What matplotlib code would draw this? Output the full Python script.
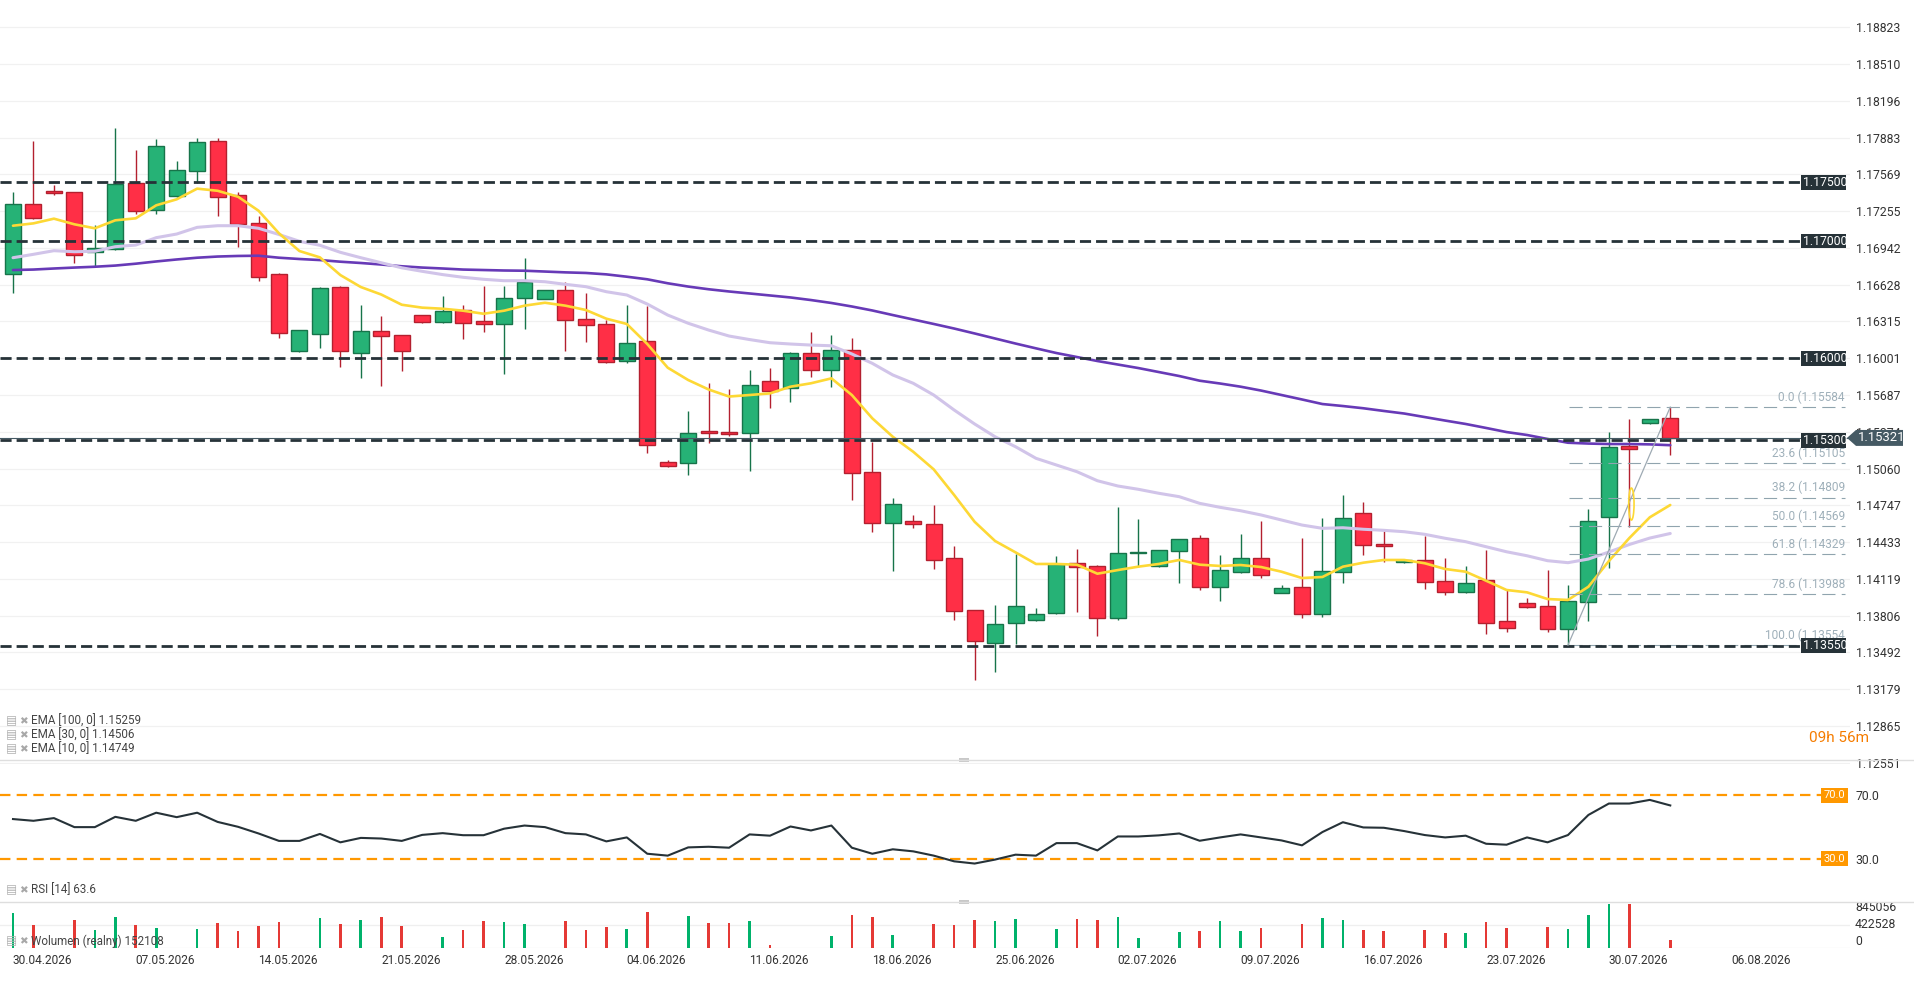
"""EUR/USD daily chart with EMA, RSI and volume panels, redrawn with matplotlib."""

import matplotlib
matplotlib.use("Agg")
import matplotlib.pyplot as plt
from matplotlib.patches import Rectangle, Polygon, Ellipse

plt.rcParams["font.family"] = ["Roboto", "DejaVu Sans"]
plt.rcParams["lines.scale_dashes"] = False

# ---- data --------------------------------------------------------------
opens = [
    1.16716, 1.17314, 1.17424, 1.17416, 1.16904, 1.16930, 1.17493, 1.17262, 1.17387, 1.17595,
    1.17851, 1.17390, 1.17151, 1.16716, 1.16060, 1.16205, 1.16606, 1.16043, 1.16230, 1.16196,
    1.16367, 1.16307, 1.16409, 1.16316, 1.16290, 1.16512, 1.16503, 1.16580, 1.16333, 1.16290,
    1.15974, 1.16145, 1.15113, 1.15104, 1.15380, 1.15369, 1.15360, 1.15804, 1.15744, 1.16043,
    1.15898, 1.16068, 1.15028, 1.14593, 1.14610, 1.14584, 1.14294, 1.13851, 1.13574, 1.13740,
    1.13765, 1.13825, 1.14252, 1.14226, 1.13788, 1.14337, 1.14226, 1.14354, 1.14465, 1.14047,
    1.14180, 1.14294, 1.13996, 1.14047, 1.13817, 1.14175, 1.14678, 1.14416, 1.14260, 1.14277,
    1.14098, 1.14004, 1.14107, 1.13759, 1.13910, 1.13885, 1.13689, 1.13919, 1.14644, 1.15255,
    1.15451, 1.15491,
]
highs = [
    1.17418, 1.17853, 1.17478, 1.17420, 1.17137, 1.17964, 1.17777, 1.17870, 1.17683, 1.17879,
    1.17880, 1.17418, 1.17214, 1.16728, 1.16240, 1.16611, 1.16617, 1.16455, 1.16361, 1.16200,
    1.16370, 1.16531, 1.16455, 1.16617, 1.16617, 1.16855, 1.16580, 1.16648, 1.16557, 1.16327,
    1.16452, 1.16446, 1.15133, 1.15551, 1.15789, 1.15738, 1.15900, 1.15917, 1.16054, 1.16224,
    1.16199, 1.16173, 1.15284, 1.14809, 1.14664, 1.14749, 1.14399, 1.13855, 1.13896, 1.14331,
    1.13870, 1.14316, 1.14374, 1.14237, 1.14732, 1.14629, 1.14365, 1.14458, 1.14490, 1.14322,
    1.14501, 1.14612, 1.14066, 1.14467, 1.14638, 1.14834, 1.14774, 1.14527, 1.14280, 1.14487,
    1.14297, 1.14229, 1.14365, 1.14024, 1.13956, 1.14194, 1.14066, 1.14715, 1.15371, 1.15485,
    1.15482, 1.15584,
]
lows = [
    1.16560, 1.17186, 1.17395, 1.16815, 1.16787, 1.16925, 1.17233, 1.17233, 1.17376, 1.17493,
    1.17216, 1.16952, 1.16662, 1.16176, 1.16058, 1.16090, 1.15928, 1.15835, 1.15766, 1.15894,
    1.16299, 1.16300, 1.16167, 1.16227, 1.15866, 1.16252, 1.16503, 1.16065, 1.16142, 1.15957,
    1.15957, 1.15195, 1.15075, 1.15007, 1.15280, 1.15340, 1.15041, 1.15579, 1.15630, 1.15843,
    1.15758, 1.14794, 1.14521, 1.14188, 1.14555, 1.14206, 1.13771, 1.13259, 1.13327, 1.13566,
    1.13762, 1.13820, 1.13839, 1.13634, 1.13771, 1.14223, 1.14222, 1.14086, 1.14026, 1.13927,
    1.14171, 1.14129, 1.13995, 1.13788, 1.13796, 1.14081, 1.14325, 1.14260, 1.14258, 1.14035,
    1.13979, 1.13996, 1.13651, 1.13663, 1.13870, 1.13668, 1.13554, 1.13762, 1.14211, 1.14564,
    1.15437, 1.15178,
]
closes = [
    1.17314, 1.17194, 1.17407, 1.16879, 1.16938, 1.17484, 1.17259, 1.17808, 1.17603, 1.17842,
    1.17378, 1.17143, 1.16696, 1.16213, 1.16239, 1.16597, 1.16060, 1.16230, 1.16188, 1.16060,
    1.16307, 1.16401, 1.16299, 1.16290, 1.16512, 1.16653, 1.16580, 1.16324, 1.16281, 1.15966,
    1.16128, 1.15258, 1.15079, 1.15360, 1.15360, 1.15352, 1.15770, 1.15719, 1.16043, 1.15898,
    1.16068, 1.15019, 1.14593, 1.14755, 1.14584, 1.14277, 1.13842, 1.13586, 1.13731, 1.13885,
    1.13817, 1.14243, 1.14217, 1.13788, 1.14337, 1.14350, 1.14362, 1.14456, 1.14047, 1.14192,
    1.14294, 1.14149, 1.14038, 1.13817, 1.14183, 1.14638, 1.14405, 1.14397, 1.14277, 1.14090,
    1.14004, 1.14081, 1.13740, 1.13697, 1.13876, 1.13694, 1.13927, 1.14610, 1.15241, 1.15229,
    1.15480, 1.15321,
]
ema10 = [
    1.17131, 1.17151, 1.17191, 1.17143, 1.17109, 1.17177, 1.17194, 1.17305, 1.17356, 1.17447,
    1.17429, 1.17378, 1.17259, 1.17066, 1.16915, 1.16861, 1.16710, 1.16608, 1.16544, 1.16457,
    1.16432, 1.16423, 1.16406, 1.16380, 1.16406, 1.16449, 1.16474, 1.16449, 1.16412, 1.16338,
    1.16293, 1.16122, 1.15920, 1.15815, 1.15734, 1.15674, 1.15687, 1.15701, 1.15758, 1.15787,
    1.15829, 1.15687, 1.15488, 1.15331, 1.15203, 1.15053, 1.14834, 1.14606, 1.14442, 1.14345,
    1.14246, 1.14246, 1.14240, 1.14163, 1.14194, 1.14223, 1.14246, 1.14280, 1.14240, 1.14229,
    1.14237, 1.14220, 1.14180, 1.14126, 1.14135, 1.14223, 1.14257, 1.14280, 1.14280, 1.14252,
    1.14203, 1.14180, 1.14103, 1.14024, 1.14004, 1.13947, 1.13939, 1.14052, 1.14271, 1.14467,
    1.14644, 1.14749,
]
ema30 = [
    1.16858, 1.16887, 1.16918, 1.16909, 1.16913, 1.16952, 1.16966, 1.17029, 1.17060, 1.17117,
    1.17131, 1.17131, 1.17109, 1.17056, 1.16998, 1.16964, 1.16904, 1.16858, 1.16815, 1.16772,
    1.16742, 1.16714, 1.16691, 1.16674, 1.16662, 1.16662, 1.16653, 1.16631, 1.16611, 1.16568,
    1.16540, 1.16463, 1.16369, 1.16299, 1.16241, 1.16190, 1.16160, 1.16133, 1.16122, 1.16113,
    1.16107, 1.16037, 1.15957, 1.15858, 1.15787, 1.15687, 1.15559, 1.15440, 1.15331, 1.15246,
    1.15147, 1.15090, 1.15033, 1.14956, 1.14911, 1.14883, 1.14849, 1.14820, 1.14763, 1.14729,
    1.14700, 1.14664, 1.14621, 1.14578, 1.14550, 1.14555, 1.14542, 1.14533, 1.14521, 1.14499,
    1.14465, 1.14436, 1.14393, 1.14350, 1.14316, 1.14274, 1.14257, 1.14288, 1.14348, 1.14412,
    1.14467, 1.14506,
]
ema100 = [
    1.16753, 1.16757, 1.16766, 1.16774, 1.16781, 1.16791, 1.16807, 1.16826, 1.16843, 1.16858,
    1.16868, 1.16873, 1.16875, 1.16858, 1.16847, 1.16838, 1.16824, 1.16813, 1.16800, 1.16785,
    1.16774, 1.16766, 1.16757, 1.16753, 1.16749, 1.16747, 1.16740, 1.16733, 1.16728, 1.16716,
    1.16696, 1.16674, 1.16640, 1.16612, 1.16589, 1.16570, 1.16553, 1.16536, 1.16519, 1.16497,
    1.16472, 1.16442, 1.16408, 1.16369, 1.16331, 1.16293, 1.16254, 1.16212, 1.16169, 1.16126,
    1.16085, 1.16045, 1.16011, 1.15977, 1.15947, 1.15917, 1.15883, 1.15849, 1.15809, 1.15785,
    1.15758, 1.15725, 1.15687, 1.15649, 1.15610, 1.15593, 1.15574, 1.15551, 1.15529, 1.15499,
    1.15469, 1.15440, 1.15406, 1.15371, 1.15346, 1.15312, 1.15280, 1.15273, 1.15269, 1.15269,
    1.15266, 1.15259,
]
rsi = [
    55.0, 53.9, 55.6, 49.9, 49.9, 56.4, 53.9, 59.0, 56.2, 59.0,
    53.2, 50.1, 45.9, 41.2, 41.2, 45.6, 40.3, 43.1, 42.7, 41.2,
    45.0, 46.1, 44.8, 44.8, 48.9, 50.9, 49.9, 46.1, 45.3, 40.9,
    43.4, 33.1, 31.9, 37.1, 37.5, 36.9, 45.3, 44.5, 50.3, 47.8,
    50.9, 36.9, 33.1, 35.9, 34.6, 31.9, 28.3, 26.9, 29.4, 32.5,
    31.9, 39.8, 39.8, 35.2, 44.0, 44.0, 44.7, 45.9, 41.3, 43.4,
    45.3, 43.4, 41.5, 38.4, 46.8, 53.0, 49.7, 49.5, 47.4, 44.9,
    43.4, 44.5, 39.4, 38.8, 43.4, 40.3, 44.9, 57.6, 64.8, 64.8,
    67.1, 63.6,
]
volume = [
    628000, 411000, 0, 501000, 320000, 556000, 411000, 356000, 0, 338000,
    447000, 302000, 393000, 465000, 0, 537000, 429000, 501000, 556000, 393000,
    0, 194000, 320000, 483000, 464000, 428000, 0, 482000, 320000, 379000,
    338000, 645000, 0, 572000, 446000, 446000, 482000, 49000, 0, 0,
    211000, 590000, 554000, 229000, 0, 428000, 410000, 500000, 482000, 518000,
    0, 338000, 518000, 500000, 554000, 175000, 0, 283000, 302000, 482000,
    302000, 356000, 0, 428000, 536000, 500000, 320000, 302000, 0, 320000,
    265000, 265000, 464000, 356000, 0, 374000, 338000, 590000, 789000, 789000,
    0, 152108,
]
price_ticks = [
    1.18823, 1.18510, 1.18196, 1.17883, 1.17569, 1.17255, 1.16942, 1.16628, 1.16315,
    1.16001, 1.15687, 1.15374, 1.15060, 1.14747, 1.14433, 1.14119, 1.13806, 1.13492,
    1.13179, 1.12865, 1.12551,
]
date_labels = [
    "30.04.2026", "07.05.2026", "14.05.2026", "21.05.2026", "28.05.2026",
    "04.06.2026", "11.06.2026", "18.06.2026", "25.06.2026", "02.07.2026",
    "09.07.2026", "16.07.2026", "23.07.2026", "30.07.2026", "06.08.2026",
]
BARS_PER_WEEK = 6  # Sunday session bars included
level_lines = [1.17500, 1.17000, 1.16000, 1.15300, 1.13550]
fib_names = ["0.0", "23.6", "38.2", "50.0", "61.8", "78.6", "100.0"]
fib_prices = [1.15584, 1.15105, 1.14809, 1.14569, 1.14329, 1.13988, 1.13554]
fib_start, fib_end = 76, 81
last_price = 1.15321
ema_legend = ["EMA [100, 0] 1.15259", "EMA [30, 0] 1.14506", "EMA [10, 0] 1.14749"]
rsi_legend = "RSI [14] 63.6"
vol_legend = "Wolumen (realny) 152108"
vol_ticks = [0, 422528, 845056]

# ---- styling ---------------------------------------------------------------
GREEN, GREEN_EDGE = "#26b276", "#17744a"
RED, RED_EDGE = "#ff2f46", "#b3202f"
VOL_GREEN, VOL_RED = "#00b26b", "#e53935"
LEVEL_COLOR = "#263238"
FIB_COLOR = "#90a4ae"
ORANGE = "#ff9800"
TEXT = "#333333"

W, H = 1914, 984
PLOT_W = 1850
SPACING = 20.46
X0 = 13
XMIN = -X0 / SPACING
XMAX = (PLOT_W - X0) / SPACING


def px_to_idx(px):
    return (px - X0) / SPACING


def axes_rect(top, bottom):
    return [0, 1 - bottom / H, PLOT_W / W, (bottom - top) / H]


def legend_row(y_px, label):
    y = 1 - y_px / H
    fig.text(6 / W, y, "▤", family="DejaVu Sans", fontsize=8.5, color="#b0b0b0", va="center")
    fig.text(19 / W, y, "✖", family="DejaVu Sans", fontsize=7.5, color="#a8a8a8", va="center")
    fig.text(31 / W, y, label, fontsize=8.4, color="#444444", va="center")


fig = plt.figure(figsize=(W / 100, H / 100), dpi=100, facecolor="white")
ax = fig.add_axes(axes_rect(0, 764))
ax_rsi = fig.add_axes(axes_rect(760, 901.7))
ax_vol = fig.add_axes(axes_rect(901.7, 948))

for a in (ax, ax_rsi, ax_vol):
    a.set_facecolor("none")
    for s in a.spines.values():
        s.set_visible(False)
    a.set_xlim(XMIN, XMAX)
    a.tick_params(length=0)

n = len(closes)
idx = list(range(n))

# ---- main panel ------------------------------------------------------------
ax.set_ylim(1.12540, 1.19056)
ax.set_yticks(price_ticks)
ax.set_yticklabels([f"{p:.5f}" for p in price_ticks])
ax.yaxis.tick_right()
ax.tick_params(axis="y", labelsize=8.8, labelcolor=TEXT, pad=4)
ax.set_xticks([])
for p in price_ticks:
    ax.axhline(p, color="#f1f1f1", lw=0.9, zorder=0)

min_body = 0.00016
for i, (o, h, l, c) in enumerate(zip(opens, highs, lows, closes)):
    up = c >= o
    fill = GREEN if up else RED
    edge = GREEN_EDGE if up else RED_EDGE
    ax.vlines(i, l, h, color=edge, lw=1.0, zorder=2)
    bottom, height = min(o, c), abs(c - o)
    if height < min_body:
        bottom -= (min_body - height) / 2
        height = min_body
    ax.add_patch(Rectangle((i - 0.39, bottom), 0.78, height, facecolor=fill,
                           edgecolor=edge, lw=1.0, zorder=3))

ax.plot(idx, ema100, color="#673ab7", lw=1.9, zorder=4, solid_capstyle="round")
ax.plot(idx, ema30, color="#d1c4e9", lw=2.2, zorder=5, solid_capstyle="round")
ax.plot(idx, ema10, color="#fdd835", lw=1.9, zorder=6, solid_capstyle="round")

box_left = px_to_idx(1801)
for lvl in level_lines:
    ax.plot([XMIN, box_left], [lvl, lvl], color=LEVEL_COLOR, lw=2.0,
            ls=(0, (8, 3.6)), zorder=7)

ax.plot([XMIN, px_to_idx(1847)], [last_price, last_price], color="#455a64",
        lw=0.8, zorder=7)

# fibonacci retracement
fx0, fx1 = px_to_idx(1569), px_to_idx(1845)
ytr = ax.get_yaxis_transform()
for name, p in zip(fib_names, fib_prices):
    ax.plot([fx0, fx1], [p, p], color=FIB_COLOR, lw=0.8, ls=(0, (9.5, 4.5)), zorder=6)
    ax.annotate(f"{name} ({p:.5f}", xy=(1845 / PLOT_W, p), xycoords=ytr,
                xytext=(0, 2.5), textcoords="offset points", ha="right", va="bottom",
                fontsize=8.6, color="#9fb0ba", zorder=8, annotation_clip=False)
ax.plot([fib_start, fib_end], [fib_prices[-1], fib_prices[0]], color="#9eaab3",
        lw=0.9, zorder=7)
ax.add_patch(Ellipse((79.1, 1.14757), 0.26, 0.00273, fill=False,
                     edgecolor="#fdd835", lw=1.2, zorder=8))

# right-hand level boxes, text clipped to the box like the platform does
box_h = 0.00062
for lvl in level_lines:
    box = Rectangle((1801 / PLOT_W, lvl - box_h), 45 / PLOT_W, 2 * box_h,
                    transform=ytr, facecolor=LEVEL_COLOR, edgecolor="none",
                    zorder=9, clip_on=False)
    ax.add_patch(box)
    t = ax.text(1803 / PLOT_W, lvl, f"{lvl:.5f}", transform=ytr, ha="left",
                va="center", fontsize=8.8, color="white", zorder=10)
    t.set_clip_path(box)

hh = 0.00068
poly = [(1847 / PLOT_W, last_price), (1856 / PLOT_W, last_price + hh),
        (1903 / PLOT_W, last_price + hh), (1903 / PLOT_W, last_price - hh),
        (1856 / PLOT_W, last_price - hh)]
ax.add_patch(Polygon(poly, closed=True, transform=ytr, facecolor="#455a64",
                     edgecolor="none", zorder=11, clip_on=False))
ax.text(1858 / PLOT_W, last_price, f"{last_price:.5f}", transform=ytr, ha="left",
        va="center", fontsize=9.4, color="white", zorder=12, clip_on=False)

fig.text(1809 / W, 1 - 738 / H, "09h 56m", color="#f57c00", fontsize=11,
         ha="left", va="center")

for k, label in enumerate(ema_legend):
    legend_row(721 + 14 * k, label)

# ---- RSI panel ---------------------------------------------------------------
ax_rsi.set_ylim(2.8, 92.3)
ax_rsi.set_xticks([])
ax_rsi.plot(idx, rsi, color="#263238", lw=1.5, zorder=4)
line_end = px_to_idx(1822)
rt = ax_rsi.get_yaxis_transform()
for lvl in (70, 30):
    ax_rsi.plot([XMIN, line_end], [lvl, lvl], color=ORANGE, lw=1.6,
                ls=(0, (7.5, 4.5)), zorder=3)
    ax_rsi.text(1824 / PLOT_W, lvl, f"{lvl:.1f}", transform=rt, ha="left", va="center",
                fontsize=8, color="white", clip_on=False,
                bbox=dict(boxstyle="square,pad=0.25", fc=ORANGE, ec="none"))
ax_rsi.set_yticks([30, 70])
ax_rsi.set_yticklabels(["30.0", "70.0"])
ax_rsi.yaxis.tick_right()
ax_rsi.tick_params(axis="y", labelsize=8.8, labelcolor=TEXT, pad=4)
legend_row(890, rsi_legend)

# ---- volume panel ------------------------------------------------------------
ax_vol.set_ylim(0, 836000)
vol_colors = [VOL_GREEN if c >= o else VOL_RED for o, c in zip(opens, closes)]
ax_vol.bar(idx, volume, width=0.13, color=vol_colors, zorder=3)
ax_vol.axhline(vol_ticks[1], color="#efefef", lw=0.9, zorder=0)
ax_vol.axhline(0, color="#efefef", lw=0.9, zorder=0)
ax_vol.set_yticks([])
vt = ax_vol.get_yaxis_transform()
for v, va in zip(vol_ticks, ("bottom", "center", "top")):
    ax_vol.text(1855 / PLOT_W, v, str(v), transform=vt, ha="left", va=va,
                fontsize=8.8, color=TEXT, clip_on=False)
ax_vol.set_xticks([BARS_PER_WEEK * k for k in range(len(date_labels))])
ax_vol.set_xticklabels(date_labels, ha="left")
ax_vol.tick_params(axis="x", labelsize=8.6, labelcolor=TEXT, pad=4)
legend_row(941, vol_legend)

# panel separators and their drag handles
for ysep in (760, 901.7):
    fig.add_artist(plt.Line2D([0, 1], [1 - ysep / H] * 2, color="#dedede", lw=1.0))
    fig.add_artist(Rectangle((959 / W, 1 - (ysep + 2) / H), 10 / W, 4 / H,
                             transform=fig.transFigure, facecolor="#c8c8c8", edgecolor="none"))

fig.savefig("out.png", dpi=100, facecolor="white")
